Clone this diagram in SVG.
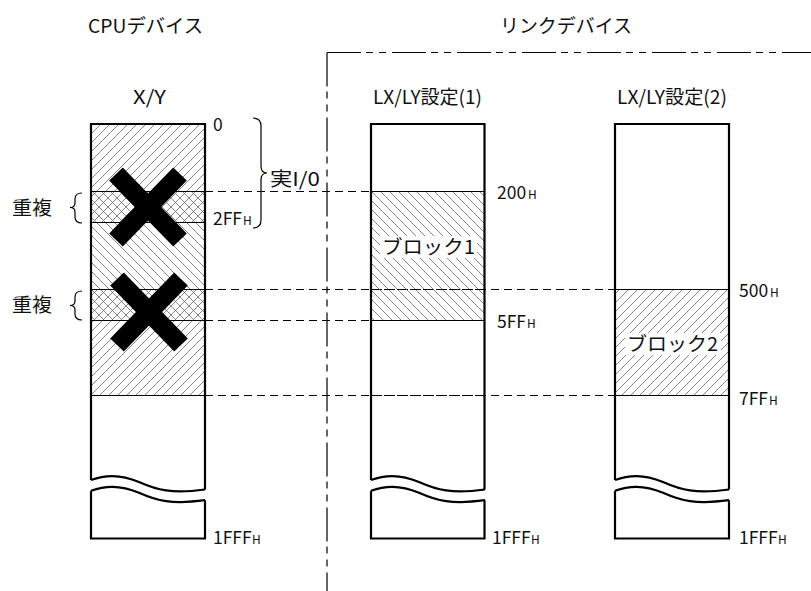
<svg xmlns="http://www.w3.org/2000/svg" width="811" height="591" viewBox="0 0 811 591">
<style>
text{font-family:"Noto Sans CJK JP","Noto Sans",sans-serif;font-size:19px;fill:#111}
.num{font-size:17.5px}
.sub{font-size:12px}
.col{fill:none;stroke:#000;stroke-width:2.2}
.row{stroke:#000;stroke-width:1.2}
.dash{stroke:#000;stroke-width:1.2;stroke-dasharray:8 5;fill:none}
.dd{stroke:#000;stroke-width:1.2;stroke-dasharray:34 5 7 6 7 6;fill:none}
.brace{fill:none;stroke:#000;stroke-width:1.2}
.xm{stroke:#000;stroke-width:19}
</style>
<defs>
<pattern id="hf" patternUnits="userSpaceOnUse" width="9" height="9">
<path d="M0,9 L9,0 M-1,1 L1,-1 M8,10 L10,8" stroke="#666" stroke-width="0.8"/>
</pattern>
<pattern id="hb" patternUnits="userSpaceOnUse" width="9" height="9">
<path d="M0,0 L9,9 M-1,8 L1,10 M8,-1 L10,1" stroke="#666" stroke-width="0.8"/>
</pattern>
<pattern id="hx" patternUnits="userSpaceOnUse" width="9" height="9">
<path d="M0,9 L9,0 M-1,1 L1,-1 M8,10 L10,8 M0,0 L9,9 M-1,8 L1,10 M8,-1 L10,1" stroke="#666" stroke-width="0.8"/>
</pattern>
<path id="wave" d="M0,0 C14,-5 28,-6 48,2 C66,10 80,14 114,9.5"/>
</defs>
<rect width="811" height="591" fill="#fff"/>

<g id="headers">
<text x="88" y="33" textLength="115" lengthAdjust="spacingAndGlyphs">CPUデバイス</text>
<text x="500" y="33" textLength="132" lengthAdjust="spacingAndGlyphs">リンクデバイス</text>
</g>

<g id="boundary">
<line class="dd" x1="327" y1="52.5" x2="811" y2="52.5"/>
<line class="dd" x1="327" y1="52.5" x2="327" y2="591"/>
</g>

<g id="connectors">
<line class="dash" x1="205" y1="191.5" x2="371" y2="191.5"/>
<line class="dash" x1="205" y1="289.5" x2="615" y2="289.5"/>
<line class="dash" x1="205" y1="320.5" x2="371" y2="320.5"/>
<line class="dash" x1="205" y1="395.5" x2="615" y2="395.5"/>
</g>

<g id="col-xy">
<text x="133" y="104" textLength="33" lengthAdjust="spacingAndGlyphs">X/Y</text>
<rect x="91" y="124" width="114" height="67.5" fill="url(#hf)"/>
<rect x="91" y="191.5" width="114" height="31" fill="url(#hx)"/>
<rect x="91" y="222.5" width="114" height="67" fill="url(#hb)"/>
<rect x="91" y="289.5" width="114" height="31" fill="url(#hx)"/>
<rect x="91" y="320.5" width="114" height="75" fill="url(#hf)"/>
<line class="row" x1="91" y1="191.5" x2="205" y2="191.5"/>
<line class="row" x1="91" y1="222.5" x2="205" y2="222.5"/>
<line class="row" x1="91" y1="289.5" x2="205" y2="289.5"/>
<line class="row" x1="91" y1="320.5" x2="205" y2="320.5"/>
<line class="row" x1="91" y1="395.5" x2="205" y2="395.5"/>
<line class="xm" x1="116" y1="174" x2="180" y2="240"/>
<line class="xm" x1="180" y1="174" x2="116" y2="240"/>
<line class="xm" x1="117" y1="279" x2="181" y2="345"/>
<line class="xm" x1="181" y1="279" x2="117" y2="345"/>
<path class="col" d="M91,480 V124 H205 V489.5"/>
<use href="#wave" x="91" y="480" class="col"/>
<use href="#wave" x="91" y="490.7" class="col"/>
<path class="col" d="M91,490.7 V538.5 H205 V500.2"/>
<text x="213" y="131" class="num">0</text>
<text x="213" y="225" class="num">2FF</text>
<text x="243" y="225" class="sub">H</text>
<text x="213" y="544" class="num">1FFF</text>
<text x="252" y="544" class="sub">H</text>
</g>

<g id="real-io">
<path class="brace" d="M253,118 Q261,118 261,126 L261,166 Q261,173 267,173 Q261,173 261,180 L261,220 Q261,228 253,228"/>
<text x="270" y="186" textLength="50" lengthAdjust="spacingAndGlyphs">実I/0</text>
</g>

<g id="overlap-1">
<path class="brace" d="M82,193 Q75,193 75,199 L75,203 Q75,207.5 70,207.5 Q75,207.5 75,212 L75,217 Q75,223 82,223"/>
<text x="12" y="215" textLength="40" lengthAdjust="spacingAndGlyphs">重複</text>
</g>
<g id="overlap-2">
<path class="brace" d="M82,291 Q75,291 75,297 L75,301 Q75,305.5 70,305.5 Q75,305.5 75,310 L75,314 Q75,320 82,320"/>
<text x="12" y="312" textLength="40" lengthAdjust="spacingAndGlyphs">重複</text>
</g>

<g id="col-lx1">
<text x="373" y="104" textLength="109" lengthAdjust="spacingAndGlyphs">LX/LY設定(1)</text>
<rect x="371" y="191.5" width="113.5" height="129" fill="url(#hb)"/>
<line class="row" x1="371" y1="191.5" x2="484.5" y2="191.5"/>
<line class="row" x1="371" y1="320.5" x2="484.5" y2="320.5"/>
<line class="dash" x1="371" y1="289.5" x2="484.5" y2="289.5"/>
<line class="dash" x1="371" y1="395.5" x2="484.5" y2="395.5"/>
<rect x="380" y="236" width="97" height="22" fill="#fff"/>
<text x="382" y="254" textLength="93" lengthAdjust="spacingAndGlyphs">ブロック1</text>
<path class="col" d="M371,480 V124 H484.5 V489.5"/>
<use href="#wave" x="371" y="480" class="col"/>
<use href="#wave" x="371" y="490.7" class="col"/>
<path class="col" d="M371,490.7 V538.5 H484.5 V500.2"/>
<text x="497" y="199" class="num">200</text>
<text x="528" y="199" class="sub">H</text>
<text x="497" y="328" class="num">5FF</text>
<text x="527" y="328" class="sub">H</text>
<text x="492" y="544" class="num">1FFF</text>
<text x="531" y="544" class="sub">H</text>
</g>

<g id="col-lx2">
<text x="617" y="104" textLength="110" lengthAdjust="spacingAndGlyphs">LX/LY設定(2)</text>
<rect x="615" y="289.5" width="114" height="106" fill="url(#hf)"/>
<line class="row" x1="615" y1="289.5" x2="729" y2="289.5"/>
<line class="row" x1="615" y1="395.5" x2="729" y2="395.5"/>
<rect x="625" y="333" width="96" height="22" fill="#fff"/>
<text x="627" y="351" textLength="91" lengthAdjust="spacingAndGlyphs">ブロック2</text>
<path class="col" d="M615,480 V124 H729 V489.5"/>
<use href="#wave" x="615" y="480" class="col"/>
<use href="#wave" x="615" y="490.7" class="col"/>
<path class="col" d="M615,490.7 V538.5 H729 V500.2"/>
<text x="739" y="297" class="num">500</text>
<text x="770" y="297" class="sub">H</text>
<text x="739" y="405" class="num">7FF</text>
<text x="769" y="405" class="sub">H</text>
<text x="739" y="544" class="num">1FFF</text>
<text x="778" y="544" class="sub">H</text>
</g>
</svg>
